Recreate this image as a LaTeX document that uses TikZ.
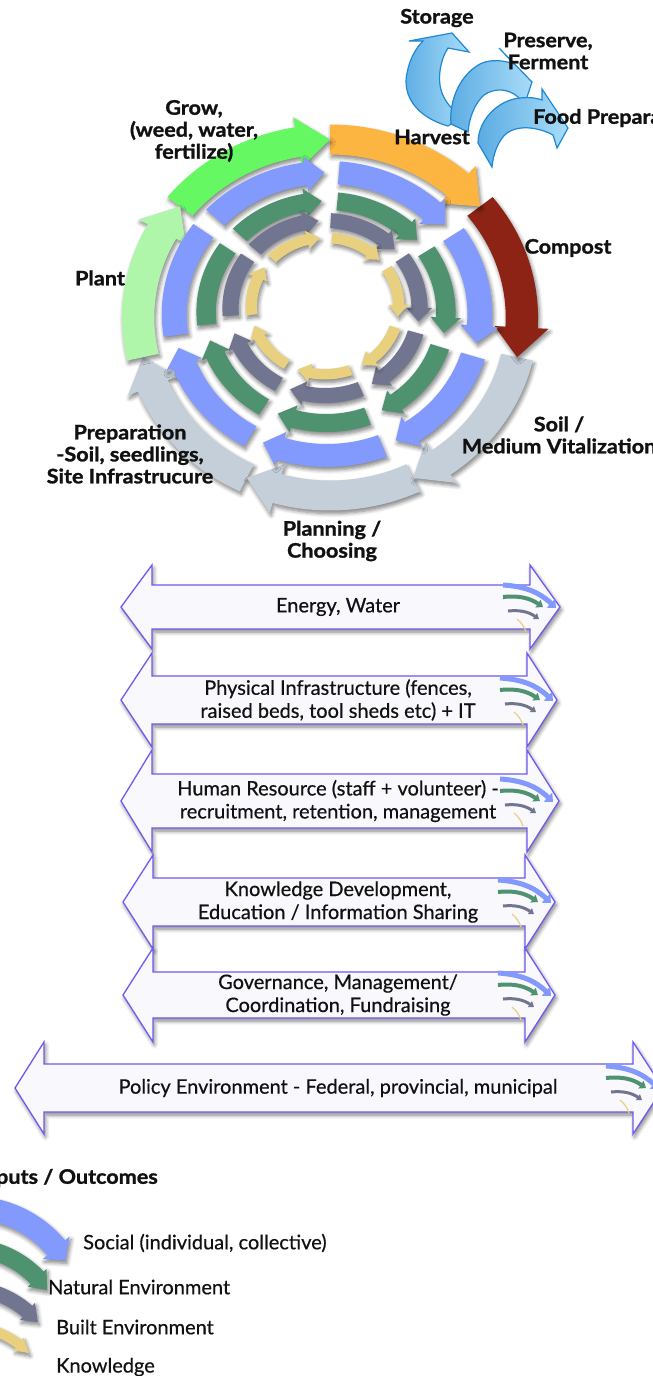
\documentclass[tikz,border=0pt]{standalone}
\usepackage{fontspec}
\setmainfont{Lato}
\newfontfamily\headfont[FakeStretch=1.08,BoldFeatures={FakeBold=1.3}]{Lato}
\newfontfamily\barfont[FakeBold=0.5]{Lato}
\usetikzlibrary{arrows.meta,shadows.blur}

\definecolor{ink}{HTML}{111111}
\definecolor{plantgreen}{HTML}{AFF6AA}
\definecolor{growgreen}{HTML}{65F862}
\definecolor{harvestorange}{HTML}{FDB541}
\definecolor{compostred}{HTML}{8C2314}
\definecolor{cyclegray}{HTML}{C5CFD9}
\definecolor{ringblue}{HTML}{8299FD}
\definecolor{ringgreen}{HTML}{4F9270}
\definecolor{ringgray}{HTML}{717590}
\definecolor{ringyellow}{HTML}{E8D07E}
\definecolor{barfill}{HTML}{F8F8FD}
\definecolor{barline}{HTML}{6E5BF0}
\definecolor{bendleft}{HTML}{5BACE3}
\definecolor{bendright}{HTML}{A9DCF8}
\definecolor{bendline}{HTML}{1E88D2}

\tikzset{
  softshadow/.style={blur shadow={shadow xshift=1.5pt,shadow yshift=-3pt,shadow blur radius=4pt,shadow blur steps=6,shadow opacity=50}},
  cyclelabel/.style={font=\headfont\bfseries\fontsize{20}{22}\selectfont,text=ink,align=center,inner sep=0pt},
  bartext/.style={font=\barfont\fontsize{20}{23}\selectfont,text=ink,align=center,inner sep=0pt},
  legendtext/.style={font=\barfont\fontsize{20}{23}\selectfont,text=ink,anchor=west,inner sep=0pt},
  barbox/.style={fill=barfill,draw=barline,line width=1.3pt,softshadow},
  bendbox/.style={left color=bendleft,right color=bendright,draw=bendline,line width=1.2pt}
}

\newcommand{\ringarrow}[7]{%
  \pgfmathsetmacro{\hbase}{#3+#6}%
  \pgfmathsetmacro{\rmid}{(#4+#5)/2}%
  \pgfmathsetmacro{\rlow}{#4-#7}%
  \pgfmathsetmacro{\rhigh}{#5+#7}%
  \fill[#1,softshadow] (#2:#5) arc[start angle=#2,end angle=\hbase,radius=#5]
    -- (\hbase:\rhigh) -- (#3:\rmid) -- (\hbase:\rlow) -- (\hbase:#4)
    arc[start angle=\hbase,end angle=#2,radius=#4] -- cycle;
}
\newcommand{\ringband}[5]{%
  \fill[#1,softshadow] (#2:#5) arc[start angle=#2,end angle=#3,radius=#5]
    -- (#3:#4) arc[start angle=#3,end angle=#2,radius=#4] -- cycle;
}
\newcommand{\impacticon}[2]{%
  \begin{scope}[shift={(#1,-#2)}]
    \draw[ringblue,line width=5pt,-{Triangle[width=12pt,length=7pt]}] (-27,22) to[bend left=20] (26,-1);
    \draw[ringgreen,line width=4pt,-{Triangle[width=9pt,length=6pt]}] (-27,10) to[bend left=20] (13,0);
    \draw[ringgray,line width=3pt,-{Triangle[width=7pt,length=5pt]}] (-22,-4) to[bend left=20] (9,-12);
    \draw[ringyellow,line width=1.2pt] (-13,-12) to[bend left=15] (-4,-25);
  \end{scope}
}
\newcommand{\bararrow}[9]{%
  \draw[barbox] (#5,-#2) -- (#6,{-#2+#4}) -- (#6,{-#2+#3}) -- (#7,{-#2+#3}) -- (#7,{-#2+#4}) -- (#8,-#2)
    -- (#7,{-#2-#4}) -- (#7,{-#2-#3}) -- (#6,{-#2-#3}) -- (#6,{-#2-#4}) -- cycle;
  \node[bartext] (#1) at (338,-#2) {#9};
  \impacticon{#7}{#2}
}

\begin{document}
\begin{tikzpicture}[x=1pt,y=1pt]
\useasboundingbox (0,0) rectangle (653,-1376);
\clip (0,0) rectangle (653,-1376);

\begin{scope}[shift={(330,-317.5)},xscale=1.078]
  \ringarrow{cyclegray}{-115.7}{-167.1}{163}{193}{9.7}{10}
  \ringarrow{cyclegray}{-64.3}{-115.7}{163}{193}{9.7}{10}
  \ringarrow{cyclegray}{-12.9}{-64.3}{163}{193}{9.7}{10}
  \ringarrow{compostred}{38.6}{-12.9}{163}{193}{9.7}{10}
  \ringarrow{harvestorange}{90}{38.6}{163}{193}{9.7}{10}
  \ringarrow{growgreen}{141.4}{90}{163}{193}{9.7}{10}
  \ringarrow{plantgreen}{192.9}{141.4}{163}{193}{9.7}{10}
\end{scope}

\begin{scope}[shift={(327,-314)},xscale=1.08]
  \foreach \k in {0,...,5} {
    \pgfmathsetmacro{\tailang}{137-51.43*\k}
    \pgfmathsetmacro{\tipang}{\tailang-46}
    \ringarrow{ringblue}{\tailang}{\tipang}{130}{153}{7}{6}
  }
  \ringband{ringblue}{188.6}{144}{130}{153}
\end{scope}

\begin{scope}[shift={(326,-312)},xscale=1.08]
  \foreach \k in {0,...,5} {
    \pgfmathsetmacro{\tailang}{136-51.43*\k}
    \pgfmathsetmacro{\tipang}{\tailang-44}
    \ringarrow{ringgreen}{\tailang}{\tipang}{102}{120}{8}{5}
  }
  \ringband{ringgreen}{186.5}{145}{102}{120}
\end{scope}

\begin{scope}[shift={(325,-308)},xscale=1.08]
  \foreach \k in {0,...,5} {
    \pgfmathsetmacro{\tailang}{138-51.43*\k}
    \pgfmathsetmacro{\tipang}{\tailang-44}
    \ringarrow{ringgray}{\tailang}{\tipang}{80}{95}{9}{4.5}
  }
  \ringband{ringgray}{185}{145}{80}{95}
\end{scope}

\begin{scope}[shift={(325,-306)},xscale=1.08]
  \foreach \k in {0,...,6} {
    \pgfmathsetmacro{\tailang}{136-51.43*\k}
    \pgfmathsetmacro{\tipang}{\tailang-42}
    \ringarrow{ringyellow}{\tailang}{\tipang}{63}{73.5}{10}{4}
  }
\end{scope}

\draw[bendbox] (448,-126) .. controls (416,-117) and (402,-95) .. (407,-73) .. controls (410,-58) and (416,-48) .. (423,-41)
  -- (409,-41) -- (452,-33) -- (469,-52) -- (448,-48) .. controls (440,-60) and (437,-80) .. (442,-93)
  .. controls (446,-103) and (452,-110) .. (462,-116) -- cycle;
\draw[bendbox] (451,-124) .. controls (449,-100) and (460,-75) .. (480,-64) .. controls (490,-59) and (503,-60) .. (514,-64)
  -- (499,-48) -- (532,-82) -- (522,-112) -- (518,-97) .. controls (508,-88) and (494,-88) .. (484,-95)
  .. controls (475,-103) and (469,-118) .. (468,-132) -- cycle;
\draw[bendbox] (478,-143) .. controls (478,-120) and (498,-100) .. (520,-98) .. controls (530,-97) and (537,-98) .. (542,-100)
  -- (542,-89) -- (568,-128) -- (557,-148) -- (553,-135) .. controls (540,-128) and (520,-124) .. (507,-133)
  .. controls (498,-140) and (493,-155) .. (492,-167) -- cycle;

\node[cyclelabel] (harvest) at (432,-137) {Harvest};
\node[cyclelabel] (grow) at (194,-131) {Grow,\\(weed, water,\\fertilize)};
\node[cyclelabel] (compost) at (568,-248) {Compost};
\node[cyclelabel] (plant) at (100,-278) {Plant};
\node[cyclelabel] (soil) at (559,-435) {Soil /\\Medium Vitalization};
\node[cyclelabel] (preparation) at (130,-454) {Preparation\\-Soil, seedlings,\\Site Infrastrucure};
\node[cyclelabel] (planning) at (332,-541) {Planning /\\Choosing};
\node[cyclelabel] (storage) at (437,-18) {Storage};
\node[cyclelabel] (preserve) at (548,-51) {Preserve,\\Ferment};
\node[cyclelabel,anchor=west] (foodprep) at (533,-118) {Food Preparation};

\bararrow{energy}{607}{22}{42}{121}{152}{530}{560}{Energy, Water}
\bararrow{physical}{700}{24}{47}{121}{152}{527}{557}{Physical Infrastructure (fences,\\raised beds, tool sheds etc) + IT}
\bararrow{human}{801}{27}{51}{121}{152}{527}{559}{Human Resource (staff + volunteer) -\\recruitment, retention, management}
\bararrow{knowledge}{902}{24}{47}{123}{153}{525}{555}{Knowledge Development,\\Education / Information Sharing}
\bararrow{governance}{995}{23}{47}{123}{153}{525}{555}{Governance, Management/\\Coordination, Fundraising}
\bararrow{policy}{1088}{24}{46}{15}{44}{633}{663}{Policy Environment - Federal, provincial, municipal}

\node[cyclelabel,anchor=east] (outcomes) at (158,-1178) {Outputs / Outcomes};
\begin{scope}[shift={(-30,-1320)}]
  \ringarrow{ringblue}{130}{32}{101}{124}{8}{6}
\end{scope}
\begin{scope}[shift={(-35,-1347)}]
  \ringarrow{ringgreen}{130}{34.8}{91}{109}{9}{4}
\end{scope}
\begin{scope}[shift={(-35,-1383)}]
  \ringarrow{ringgray}{130}{39.9}{87.5}{102.5}{9}{4}
\end{scope}
\begin{scope}[shift={(-35,-1415)}]
  \ringarrow{ringyellow}{130}{44}{84}{94}{9}{3}
\end{scope}
\node[legendtext] (social) at (83,-1243) {Social (individual, collective)};
\node[legendtext] (natural) at (48,-1287) {Natural Environment};
\node[legendtext] (built) at (56,-1327) {Built Environment};
\node[legendtext] (knowhow) at (56,-1367) {Knowledge};
\end{tikzpicture}
\end{document}
